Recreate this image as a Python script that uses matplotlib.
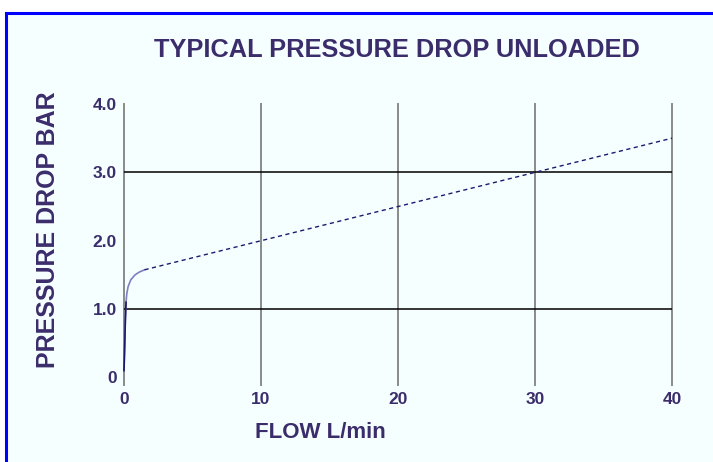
import matplotlib.pyplot as plt
from matplotlib.patches import Rectangle
from matplotlib.lines import Line2D

# knee of the curve (solid) and the straight part (dashed)
knee_flow = [0.0, 0.05, 0.1, 0.15, 0.2, 0.3, 0.5, 0.8, 1.1, 1.5]
knee_drop = [0.1, 0.45, 0.85, 1.1, 1.22, 1.33, 1.43, 1.5, 1.54, 1.575]
line_flow = [1.5, 10, 20, 30, 40]
line_drop = [1.575, 2.0, 2.5, 3.0, 3.5]

x_ticks = [0, 10, 20, 30, 40]
x_labels = ['0', '10', '20', '30', '40']
y_ticks = [0, 1, 2, 3, 4]
y_labels = ['0', '1.0', '2.0', '3.0', '4.0']
h_lines = [1.0, 3.0]

txt = '#3b2d6b'
plt.rcParams['font.family'] = ['Liberation Sans', 'DejaVu Sans']

fig = plt.figure(figsize=(7.13, 4.62), dpi=100)
fig.patch.set_facecolor('white')

# panel background and blue frame (top and left edges visible)
W, H = 713, 462
fig.patches.append(Rectangle((6 / W, 0), 1, 1 - 13 / H, transform=fig.transFigure,
                             facecolor='#f5ffff', edgecolor='none', zorder=-10))
fig.lines.append(Line2D([6 / W, 1], [1 - 13 / H, 1 - 13 / H], transform=fig.transFigure,
                        color='#0000ff', lw=2.2, zorder=-5))
fig.lines.append(Line2D([6 / W, 6 / W], [0, 1 - 13 / H], transform=fig.transFigure,
                        color='#0000ff', lw=2.2, zorder=-5))

ax = fig.add_axes([124 / W, 77 / H, 548 / W, 281 / H])
ax.set_facecolor('none')
ax.set_xlim(0, 40)
ax.set_ylim(-0.11, 4.0)
for s in ax.spines.values():
    s.set_visible(False)

for xv in x_ticks:
    ax.axvline(xv, color='#8a8a8a', lw=1.4, clip_on=False, zorder=1)
for yv in h_lines:
    ax.axhline(yv, color='black', lw=1.1, zorder=1)

ax.plot(knee_flow, knee_drop, color='#7f7fc0', lw=1.2, clip_on=False, zorder=3)
ax.plot(knee_flow[:4], knee_drop[:4], color='#1a1a66', lw=1.2, clip_on=False, zorder=3)
ax.plot(line_flow, line_drop, color='#1a1a70', lw=1.0, ls=(0, (3, 2.5)), zorder=3)

ax.set_xticks(x_ticks)
ax.set_xticklabels(x_labels)
ax.set_yticks(y_ticks)
ax.set_yticklabels(y_labels)
ax.tick_params(length=0, labelsize=12.5, labelcolor=txt, pad=5)
for lab in ax.get_xticklabels() + ax.get_yticklabels():
    lab.set_fontweight('bold')

fig.text(397 / W, 1 - 50 / H, 'TYPICAL PRESSURE DROP UNLOADED', ha='center', va='center',
         fontsize=18.3, fontweight='bold', color=txt)
fig.text(48 / W, 1 - 230 / H, 'PRESSURE DROP BAR', ha='center', va='center', rotation=90,
         fontsize=18, fontweight='bold', color=txt)
fig.text(320 / W, 1 - 432 / H, 'FLOW L/min', ha='center', va='center',
         fontsize=16, fontweight='bold', color=txt)

fig.savefig('out.png', dpi=100)
